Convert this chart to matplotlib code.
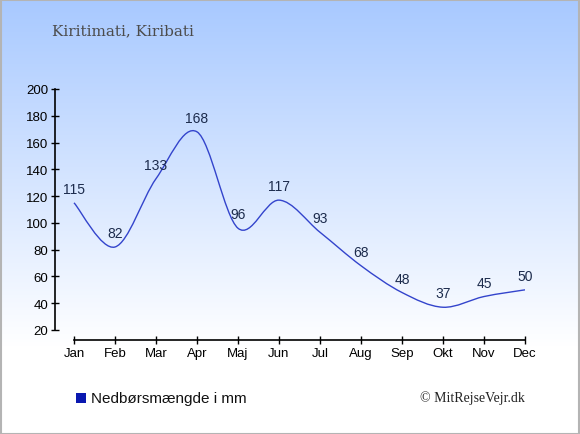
import numpy as np
import matplotlib
matplotlib.use("Agg")
import matplotlib.pyplot as plt
from matplotlib.path import Path
from matplotlib.patches import PathPatch, Rectangle
from matplotlib.colors import LinearSegmentedColormap

months = ['Jan', 'Feb', 'Mar', 'Apr', 'Maj', 'Jun', 'Jul', 'Aug', 'Sep', 'Okt', 'Nov', 'Dec']
rain_mm = [115, 82, 133, 168, 96, 117, 93, 68, 48, 37, 45, 50]
y_ticks = [20, 40, 60, 80, 100, 120, 140, 160, 180, 200]

line_col = '#3344cc'
label_col = '#1c2b4c'

W, H = 580, 435
fig = plt.figure(figsize=(W / 100, H / 100), dpi=100)

# background gradient
bg = fig.add_axes([0, 0, 1, 1], zorder=-10)
bg.set_axis_off()
grad = np.linspace(0, 1, 256).reshape(-1, 1)
cmap = LinearSegmentedColormap.from_list('bg', [(0, '#a8c9ff'), (0.8, '#ffffff'), (1, '#ffffff')])
bg.imshow(grad, aspect='auto', cmap=cmap, extent=[0, 1, 0, 1], origin='upper')
bg.set_xlim(0, 1)
bg.set_ylim(0, 1)
bg.add_patch(Rectangle((0.001, 0.001), 0.997, 0.996, fill=False, edgecolor='#b4b4b4', lw=1.5,
                       transform=bg.transAxes))

# plot area in pixels
left, right, top, bottom = 55, 525, 90, 341
ax = fig.add_axes([left / W, 1 - bottom / H, (right - left) / W, (bottom - top) / H])
ax.patch.set_alpha(0)

px_per_unit = (331 - 90) / 180.0
ymin = 20 - (bottom - 331) / px_per_unit
jan_frac = (74 - left) / (right - left)
xmin = -11 * jan_frac / (1 - jan_frac)
ax.set_xlim(xmin, 11)
ax.set_ylim(ymin, 200)

# smooth curve through the points (cardinal spline as bezier segments)
x = np.arange(len(rain_mm), dtype=float)
y = np.array(rain_mm, dtype=float)
t = 0.5
verts = [(x[0], y[0])]
codes = [Path.MOVETO]
n = len(x)
for i in range(n - 1):
    p0 = (x[i - 1], y[i - 1]) if i > 0 else (x[i], y[i])
    p1 = (x[i], y[i])
    p2 = (x[i + 1], y[i + 1])
    p3 = (x[i + 2], y[i + 2]) if i + 2 < n else (x[i + 1], y[i + 1])
    c1 = (p1[0] + (p2[0] - p0[0]) * t / 3, p1[1] + (p2[1] - p0[1]) * t / 3)
    c2 = (p2[0] - (p3[0] - p1[0]) * t / 3, p2[1] - (p3[1] - p1[1]) * t / 3)
    verts += [c1, c2, p2]
    codes += [Path.CURVE4] * 3
ax.add_patch(PathPatch(Path(verts, codes), facecolor='none', edgecolor=line_col, lw=1.0))

for i, v in enumerate(rain_mm):
    ax.annotate(str(v), (i, v), xytext=(0, 5), textcoords='offset points', ha='center', va='bottom',
                fontsize=10, color=label_col, family='Liberation Sans', clip_on=False)

for s in ['top', 'right']:
    ax.spines[s].set_visible(False)
ax.spines['left'].set_bounds(20, 200)
ax.spines['bottom'].set_bounds(0, 11)
ax.spines['left'].set_linewidth(1.2)
ax.spines['bottom'].set_linewidth(1.2)

ax.set_yticks(y_ticks)
ax.set_xticks(range(len(months)))
ax.set_xticklabels(months)
ax.tick_params(direction='inout', length=6, width=1, labelsize=9.5, colors='black', pad=2)
for lab in ax.get_xticklabels() + ax.get_yticklabels():
    lab.set_family('Liberation Sans')

fig.text(52 / W, 1 - 31 / H, 'Kiritimati, Kiribati', fontsize=11, family='DejaVu Serif',
         color='#4c4c4c', va='center', ha='left')

fig.patches.append(Rectangle((76 / W, 1 - 404 / H), 10 / W, 10 / H, transform=fig.transFigure,
                             facecolor='#0a18b0', edgecolor='none'))
fig.text(91 / W, 1 - 399 / H, 'Nedbørsmængde i mm', fontsize=11, family='Liberation Sans',
         color='#111111', va='center', ha='left')
fig.text(525 / W, 1 - 398 / H, '© MitRejseVejr.dk', fontsize=10, family='Liberation Serif',
         color='#222222', va='center', ha='right')

fig.savefig('out.png', dpi=100)
